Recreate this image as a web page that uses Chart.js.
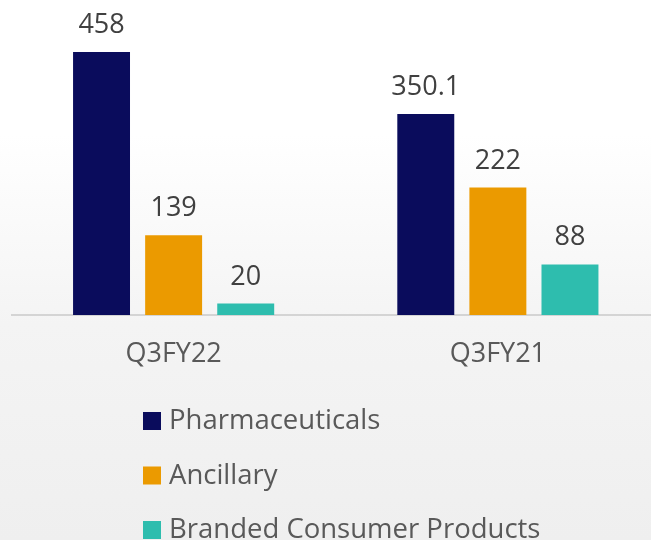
<!DOCTYPE html>
<html>
<head>
<meta charset="utf-8">
<script src="https://cdn.jsdelivr.net/npm/chart.js@4/dist/chart.umd.min.js"></script>
<style>
  html, body { margin: 0; padding: 0; overflow: hidden; }
  body {
    width: 651px; height: 540px;
    background: linear-gradient(#ffffff 0%, #ffffff 25%, #f4f4f4 60%, #efefef 100%);
  }
  #wrap { position: relative; width: 660px; height: 540px; }
</style>
</head>
<body>
<div id="wrap"><canvas id="chartSegmentos" width="660" height="540"></canvas></div>
<script>
const trimestres = ['Q3FY22', 'Q3FY21']
const nomesSegmentos = ['Pharmaceuticals', 'Ancillary', 'Branded Consumer Products']
const pharmaceuticals = [458, 350.1]
const ancillary = [139, 222]
const brandedConsumer = [20, 88]
const rotulos = [['458', '350.1'], ['139', '222'], ['20', '88']]
const cores = ['#0a0c5c', '#eb9a00', '#2ebdae']

const fonte = '"Open Sans", "Noto Sans", sans-serif'

// rotulos em cima das barras + legenda vertical embaixo
const pluginRotulos = {
    id: 'rotulos',
    afterDatasetsDraw(chart) {
        const ctx = chart.ctx
        ctx.save()
        ctx.font = `27px ${fonte}`
        ctx.fillStyle = '#404040'
        ctx.textAlign = 'center'
        ctx.textBaseline = 'alphabetic'
        chart.data.datasets.forEach((ds, i) => {
            chart.getDatasetMeta(i).data.forEach((bar, j) => {
                ctx.fillText(rotulos[i][j], bar.x, bar.y - 19)
            })
        })
        ctx.restore()
    },
    afterDraw(chart) {
        const ctx = chart.ctx
        ctx.save()
        ctx.font = `27.5px ${fonte}`
        ctx.textAlign = 'left'
        ctx.textBaseline = 'alphabetic'
        chart.data.datasets.forEach((ds, i) => {
            const base = 429 + i * 54.5
            ctx.fillStyle = ds.backgroundColor
            ctx.fillRect(143, base - 17, 18, 18)
            ctx.fillStyle = '#595959'
            ctx.fillText(ds.label, 169, base)
        })
        ctx.restore()
    }
}

const valores = [pharmaceuticals, ancillary, brandedConsumer]

const data = {
    labels: trimestres,
    datasets: nomesSegmentos.map((nome, i) => ({
        label: nome,
        data: valores[i],
        backgroundColor: cores[i],
        borderWidth: 0,
        categoryPercentage: 0.667,
        barPercentage: 0.79
    }))
}

const config = {
    type: 'bar',
    data: data,
    options: {
        responsive: false,
        animation: false,
        layout: {
            padding: { left: 11.5, right: 0, top: 0, bottom: 0 }
        },
        plugins: {
            legend: { display: false },
            tooltip: { enabled: false }
        },
        scales: {
            x: {
                grid: { display: false, drawTicks: false },
                border: { display: true, color: '#d4d4d4', width: 2 },
                ticks: {
                    color: '#595959',
                    font: { family: fonte, size: 27 },
                    padding: 23
                },
                afterFit(scale) {
                    scale.height = 225
                }
            },
            y: {
                display: false,
                min: 0,
                max: 548.5
            }
        }
    },
    plugins: [pluginRotulos]
}

new Chart(document.getElementById('chartSegmentos'), config)
</script>
</body>
</html>
